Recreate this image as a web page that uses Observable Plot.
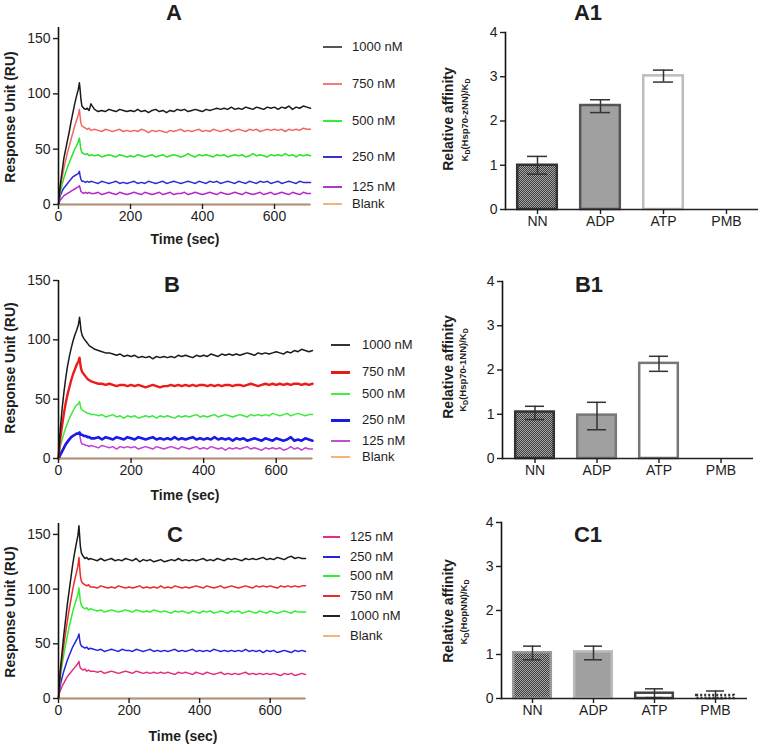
<!DOCTYPE html>
<html><head><meta charset="utf-8">
<script src="https://cdn.jsdelivr.net/npm/d3@7"></script>
<script src="https://cdn.jsdelivr.net/npm/@observablehq/plot@0.6"></script>
<style>
body{margin:0;background:#fff;}
#root{position:relative;width:761px;height:746px;background:#fff;font-family:"Liberation Sans",Arial,sans-serif;color:#1e1e1e;overflow:hidden}
.t{position:absolute;white-space:nowrap;transform:translate(-50%,-50%);line-height:1.15;}
.title{font-weight:bold;font-size:22px;}
.ax{font-weight:bold;font-size:14px;}
.sub{font-weight:bold;font-size:9.5px;}
.sub sub{font-size:7px;vertical-align:-2px;}
.leg{position:absolute;font-size:13px;white-space:nowrap;transform:translateY(-50%);line-height:1.15;}
.legline{position:absolute;height:0;}
svg.p{position:absolute;}
</style></head><body><div id="root"></div>
<script>
// ---------------- DATA ----------------
const timeSec = [0,2,5,10,15,20,25,30,35,40,45,50,55,58,60,62,65,70,75,80,85,90,
100,110,120,130,140,150,160,170,180,190,
200,210,220,230,240,250,260,270,280,290,
300,310,320,330,340,350,360,370,380,390,
400,410,420,430,440,450,460,470,480,490,
500,510,520,530,540,550,560,570,580,590,
600,610,620,630,640,650,660,670,680,690,
700];
const blankTime = [0, 700];
const blankRU = [0, 0];

const A_1000 = [0,8,18,30,42,50,58,66,75,83,91,98,104,110,104,96,89,87,86,87,85,91,
86,84,85,84,86,85,84,86,85,84,
85,84,86,84,85,83,85,86,84,85,
83,85,84,86,85,86,84,85,86,85,
84,86,85,86,87,86,87,86,88,86,
87,86,88,87,86,88,87,86,88,87,
88,86,88,87,89,86,88,87,89,88,
87];
const A_750 = [0,7,15,24,33,40,47,53,59,65,71,76,81,86,80,74,71,70,69,68,69,67,
68,67,66,68,67,66,67,68,66,67,
66,67,66,68,67,65,67,66,67,66,
65,67,66,67,68,66,67,66,67,68,
66,67,66,68,67,66,67,68,66,67,
68,67,66,68,67,68,66,67,68,67,
68,67,68,66,68,67,68,67,69,68,
68];
const A_500 = [0,6,11,18,24,29,34,38,42,46,50,53,57,60,55,50,47,46,45,46,44,45,
44,45,43,44,45,44,43,45,44,43,
44,43,45,44,43,44,45,43,44,45,
43,44,45,44,43,44,46,44,43,45,
44,45,44,43,45,44,45,43,44,45,
44,45,43,44,46,44,45,44,43,45,
44,45,44,46,44,45,43,45,44,45,
44];
const A_250 = [0,4,8,12,15,17,19,21,23,25,26,27,28,30,26,23,21,21,20,21,20,21,
20,19,21,20,19,20,21,19,20,19,
20,21,19,20,19,21,20,19,20,21,
19,20,21,20,19,20,21,20,19,21,
20,19,21,20,21,19,20,21,20,19,
21,20,19,21,20,19,21,20,21,19,
20,21,19,20,21,20,19,21,20,20,
20];
const A_125 = [0,2,4,6,8,9,10,11,12,13,14,15,16,17,15,12,11,10,11,10,11,10,
10,11,9,10,11,10,9,11,10,9,
10,11,10,9,11,10,9,10,11,9,
10,11,9,10,10,11,9,10,11,10,
9,10,11,10,9,11,10,9,10,11,
10,9,11,10,9,10,11,9,10,11,
9,10,11,10,9,11,10,9,11,10,
10];

const B_1000 = [0,12,25,42,56,68,78,86,93,99,104,108,113,119,114,108,104,101,99,97,95,94,
92,91,90,89,89,88,87,88,86,87,
86,87,85,86,85,86,84,86,85,86,
85,86,85,87,86,87,86,85,87,86,
87,86,88,87,86,88,87,88,87,88,
87,88,89,88,87,89,88,89,88,89,
90,89,88,90,89,91,90,92,91,90,
91];
const B_750 = [0,8,17,28,38,47,54,60,66,71,75,79,82,85,80,76,73,71,69,67,66,65,
64,63,63,62,63,62,61,62,62,61,
62,61,62,61,60,61,62,61,60,61,
61,62,61,62,61,62,61,62,61,62,
62,61,62,61,62,61,62,62,61,62,
62,61,62,63,62,61,62,63,62,63,
62,63,62,63,62,63,63,62,63,62,
63];
const B_500 = [0,5,10,16,21,26,30,34,37,40,43,45,46,48,45,42,41,40,39,38,38,37,
37,36,37,35,36,37,35,36,34,36,
35,36,34,35,36,35,36,34,36,35,
36,35,34,36,35,36,35,36,37,35,
36,35,36,37,35,36,37,36,35,36,
37,36,35,37,36,37,36,37,36,38,
37,36,37,38,36,37,38,37,36,37,
37];
const B_250 = [0,1,3,6,9,12,14,16,18,19,20,21,21,22,21,20,20,19,19,18,18,17,
17,18,16,18,17,16,18,17,16,18,
17,16,18,17,16,17,18,16,17,16,
17,16,18,16,17,16,17,18,16,17,
16,17,16,18,16,17,16,17,15,17,
16,17,15,16,17,16,15,17,16,15,
17,16,15,16,18,15,16,15,17,16,
15];
const B_125 = [0,2,4,7,10,13,15,17,18,19,20,21,21,20,17,14,12,12,11,11,10,11,
10,9,11,10,9,10,8,10,9,10,
9,10,8,9,10,9,8,10,9,8,
9,10,9,8,10,9,8,9,10,8,
9,8,10,9,8,9,7,9,8,9,
8,9,10,8,9,8,7,9,8,9,
8,9,7,8,10,8,9,7,9,8,
8];

const C_1000 = [0,12,26,42,58,72,86,98,110,122,132,141,149,158,148,139,133,130,128,129,127,128,
127,126,128,126,127,128,126,127,126,128,
127,126,128,125,127,126,127,125,126,127,
125,126,127,126,128,126,127,126,127,126,
127,128,126,127,126,128,127,126,128,127,
128,127,126,128,127,128,127,128,129,127,
128,127,129,128,127,129,130,128,129,128,
128];
const C_750 = [0,10,22,36,49,60,71,81,90,99,107,114,121,129,120,112,107,105,104,103,104,102,
102,101,103,102,101,102,101,103,102,101,
102,101,102,103,101,102,101,102,101,103,
101,102,101,103,102,101,102,101,102,103,
102,101,103,102,101,102,103,101,102,103,
102,101,102,103,102,101,103,102,103,102,
103,102,101,103,102,103,102,103,102,103,
103];
const C_500 = [0,9,19,30,40,49,57,65,72,79,85,90,95,101,95,89,85,83,82,83,81,82,
81,80,81,79,80,81,80,79,80,81,
80,79,81,80,79,80,79,81,80,79,
80,79,78,80,79,80,79,78,80,79,
78,80,79,80,78,79,80,79,78,80,
79,80,78,79,80,79,78,80,79,78,
80,79,78,79,80,79,78,80,79,79,
79];
const C_250 = [0,6,12,19,25,30,35,39,43,47,50,53,56,59,54,50,48,47,46,47,45,46,
45,44,45,43,44,45,44,43,45,44,
44,43,45,44,43,44,45,43,44,43,
44,43,44,45,43,44,43,44,45,43,
44,43,44,43,45,44,43,44,43,44,
43,44,43,45,43,44,43,44,42,44,
43,44,42,43,44,43,42,44,43,44,
43];
const C_125 = [0,4,7,11,14,17,20,22,24,26,28,30,32,34,30,28,27,26,27,25,26,25,
25,24,25,23,24,25,24,23,24,25,
24,23,25,24,23,24,23,24,23,24,
23,24,23,22,24,23,24,23,22,24,
23,22,24,23,22,23,24,22,23,22,
23,22,23,24,22,23,22,23,22,23,
22,23,22,21,23,22,23,21,22,23,
22];

const timeTicks = [0, 200, 400, 600];
const ruTicks = [0, 50, 100, 150];
const legendAB = ["1000 nM", "750 nM", "500 nM", "250 nM", "125 nM", "Blank"];
const legendC = ["125 nM", "250 nM", "500 nM", "750 nM", "1000 nM", "Blank"];

const categories = ["NN", "ADP", "ATP", "PMB"];
const affinityTicks = [0, 1, 2, 3, 4];
const A1_mean = [1.00, 2.35, 3.02, 0];
const A1_low  = [0.80, 2.19, 2.88, 0];
const A1_high = [1.20, 2.48, 3.15, 0];
const B1_mean = [1.05, 0.98, 2.15, 0];
const B1_low  = [0.88, 0.65, 1.97, 0];
const B1_high = [1.18, 1.27, 2.31, 0];
const C1_mean = [1.04, 1.06, 0.12, 0.07];
const C1_low  = [0.88, 0.88, 0.02, 0.00];
const C1_high = [1.19, 1.19, 0.22, 0.17];

// ---------------- RENDER ----------------
const root = document.getElementById("root");
const FONT = '"Liberation Sans", Arial, sans-serif';
const intFmt = d => String(d);

root.insertAdjacentHTML("beforeend", `<svg width="0" height="0" style="position:absolute"><defs>
<pattern id="chk" width="2" height="2" patternUnits="userSpaceOnUse">
<rect width="2" height="2" fill="#3c3c3c"/><rect width="1" height="1" fill="#a8a8a8"/><rect x="1" y="1" width="1" height="1" fill="#a8a8a8"/>
</pattern></defs></svg>`);

function addText(html, x, y, cls, rot) {
  const d = document.createElement("div");
  d.className = "t " + cls;
  d.innerHTML = html;
  d.style.left = x + "px";
  d.style.top = y + "px";
  if (rot) d.style.transform = "translate(-50%,-50%) rotate(-90deg)";
  root.appendChild(d);
}

function addLegend(labels, colors, widths, x1, x2, tx, ys) {
  labels.forEach((lab, i) => {
    const l = document.createElement("div");
    l.className = "legline";
    l.style.left = x1 + "px";
    l.style.width = (x2 - x1) + "px";
    l.style.top = (ys[i] - widths[i] / 2) + "px";
    l.style.borderTop = `${widths[i]}px solid ${colors[i]}`;
    root.appendChild(l);
    const t = document.createElement("div");
    t.className = "leg";
    t.style.left = tx + "px";
    t.style.top = ys[i] + "px";
    t.textContent = lab;
    root.appendChild(t);
  });
}

function sensorgram(cfg) {
  const marks = [];
  cfg.series.forEach(s => {
    marks.push(Plot.line(timeSec.map((t, i) => ({t, v: s.values[i]})),
      {x: "t", y: "v", stroke: s.color, strokeWidth: s.width, curve: "linear"}));
  });
  marks.push(Plot.ruleY([0], {stroke: "#111", strokeWidth: 1.6}));
  marks.push(Plot.ruleX([0], {stroke: "#111", strokeWidth: 1.6}));
  marks.push(Plot.line(blankTime.map((t, i) => ({t, v: blankRU[i]})),
    {x: "t", y: "v", stroke: "#c98a5a", strokeWidth: 1}));
  marks.push(Plot.axisY({ticks: cfg.yTicks, tickFormat: intFmt, tickSize: 5, tickPadding: 3, label: null, strokeWidth: 1.4}));
  marks.push(Plot.axisX({ticks: timeTicks, tickFormat: intFmt, tickSize: 5, tickPadding: 2, label: null, strokeWidth: 1.4}));
  const svg = Plot.plot({
    width: 380, height: cfg.height,
    marginLeft: cfg.m[0], marginRight: cfg.m[1], marginTop: cfg.m[2], marginBottom: cfg.m[3],
    x: {domain: [0, 700]},
    y: {domain: [0, cfg.yMax]},
    style: {fontFamily: FONT, fontSize: "14px", color: "#1e1e1e", background: "transparent", overflow: "visible"},
    marks
  });
  svg.classList.add("p");
  svg.style.left = "0px";
  svg.style.top = cfg.top + "px";
  root.appendChild(svg);
}

function barChart(cfg) {
  const rows = categories.map((c, i) => ({c, m: cfg.mean[i], lo: cfg.low[i], hi: cfg.high[i]}));
  const marks = [];
  rows.forEach((r, i) => {
    const st = cfg.styles[i];
    if (r.m > 0) {
      marks.push(Plot.barY([r], {x: "c", y: "m", fill: st.fill, stroke: st.stroke,
        strokeWidth: 2.5, strokeDasharray: st.dash || null, insetLeft: 1.2, insetRight: 1.2}));
    }
  });
  const err = rows.filter(r => r.hi > r.lo);
  marks.push(Plot.ruleX(err, {x: "c", y1: "lo", y2: "hi", stroke: "#333", strokeWidth: 1.5}));
  marks.push(Plot.tickY(err, {x: "c", y: "lo", stroke: "#333", strokeWidth: 1.5, insetLeft: 11, insetRight: 11}));
  marks.push(Plot.tickY(err, {x: "c", y: "hi", stroke: "#333", strokeWidth: 1.5, insetLeft: 11, insetRight: 11}));
  marks.push(Plot.frame({anchor: "left", stroke: "#111", strokeWidth: 1.6}));
  marks.push(Plot.ruleY([0], {stroke: "#222", strokeWidth: 1.6}));
  marks.push(Plot.axisY({ticks: affinityTicks, tickFormat: intFmt, tickSize: 5, tickPadding: 3, label: null, strokeWidth: 1.4}));
  marks.push(Plot.axisX({tickSize: 5, tickPadding: 2, label: null, strokeWidth: 1.4}));
  const svg = Plot.plot({
    width: 381, height: cfg.height,
    marginLeft: cfg.m[0], marginRight: cfg.m[1], marginTop: cfg.m[2], marginBottom: cfg.m[3],
    x: {domain: categories, paddingInner: 0.34, paddingOuter: 0.17},
    y: {domain: [0, 4]},
    style: {fontFamily: FONT, fontSize: "14px", color: "#1e1e1e", background: "transparent", overflow: "visible"},
    marks
  });
  svg.classList.add("p");
  svg.style.left = "380px";
  svg.style.top = cfg.top + "px";
  root.appendChild(svg);
}

// ----- Row A -----
sensorgram({top: 0, height: 250, m: [58, 70, 27, 46], yMax: 160, yTicks: ruTicks, series: [
  {values: A_125, color: "#b22ac8", width: 1.5},
  {values: A_250, color: "#2b2bd6", width: 1.5},
  {values: A_500, color: "#28e428", width: 1.5},
  {values: A_750, color: "#f26565", width: 1.5},
  {values: A_1000, color: "#1a1a1a", width: 1.5}
]});
addLegend(legendAB, ["#555", "#f47a7a", "#33ee33", "#3434c8", "#a83cc8", "#f4b27c"], [2,2,2,2,2,2],
  323, 342, 352, [47, 83.5, 120.5, 157, 187, 203.5]);
addText("A", 174, 13, "title");
addText("Response Unit (RU)", 10, 117, "ax", true);
addText("Time (sec)", 185, 239, "ax");

barChart({top: 0, height: 250, m: [125, 3, 32, 41], mean: A1_mean, low: A1_low, high: A1_high, styles: [
  {fill: "url(#chk)", stroke: "#333"},
  {fill: "#a0a0a0", stroke: "#555"},
  {fill: "#fff", stroke: "#bdbdbd"},
  {fill: "#fff", stroke: "#444"}
]});
addText("A1", 588, 13, "title");
addText("Relative affinity", 448, 119, "ax", true);
addText("K<sub>D</sub>(Hsp70-zNN)/K<sub>D</sub>", 466, 120, "sub", true);

// ----- Row B -----
sensorgram({top: 250, height: 250, m: [58, 68, 30, 42], yMax: 150, yTicks: ruTicks, series: [
  {values: B_125, color: "#c23fd4", width: 1.5},
  {values: B_250, color: "#1a1ae8", width: 2.6},
  {values: B_500, color: "#3ce83c", width: 1.5},
  {values: B_750, color: "#ec1c1c", width: 2.4},
  {values: B_1000, color: "#1a1a1a", width: 1.5}
]});
addLegend(legendAB, ["#333", "#e81a1a", "#44ee44", "#1a1ae0", "#c050d0", "#f4b27c"], [2,3,2,3,2,2],
  331, 350, 362, [345, 372, 394, 420, 441, 457]);
addText("B", 172, 285, "title");
addText("Response Unit (RU)", 10, 368, "ax", true);
addText("Time (sec)", 185, 495, "ax");

barChart({top: 250, height: 250, m: [122, 8, 31, 42], mean: B1_mean, low: B1_low, high: B1_high, styles: [
  {fill: "url(#chk)", stroke: "#333"},
  {fill: "#a0a0a0", stroke: "#777"},
  {fill: "#fff", stroke: "#777"},
  {fill: "#fff", stroke: "#444"}
]});
addText("B1", 589, 285, "title");
addText("Relative affinity", 448, 367, "ax", true);
addText("K<sub>D</sub>(Hsp70-1NN)/K<sub>D</sub>", 464, 370, "sub", true);

// ----- Row C -----
sensorgram({top: 490, height: 256, m: [58, 75, 33, 48], yMax: 160, yTicks: ruTicks, series: [
  {values: C_125, color: "#e2307e", width: 1.5},
  {values: C_250, color: "#2424dc", width: 1.5},
  {values: C_500, color: "#2ef02e", width: 1.5},
  {values: C_750, color: "#f02a2a", width: 1.5},
  {values: C_1000, color: "#1a1a1a", width: 1.5}
]});
addLegend(legendC, ["#e2307e", "#2424dc", "#2ef02e", "#f02a2a", "#222", "#f4b27c"], [2,2,2,2,2,2],
  323, 340, 350, [537, 557, 576, 596, 616, 636]);
addText("C", 175, 535, "title");
addText("Response Unit (RU)", 10, 612, "ax", true);
addText("Time (sec)", 183, 736, "ax");

barChart({top: 490, height: 256, m: [121, 14, 32, 48], mean: C1_mean, low: C1_low, high: C1_high, styles: [
  {fill: "url(#chk)", stroke: "#9a9a9a"},
  {fill: "#a0a0a0", stroke: "#bbbbbb"},
  {fill: "#fff", stroke: "#444"},
  {fill: "#fff", stroke: "#333", dash: "2,2"}
]});
addText("C1", 588, 535, "title");
addText("Relative affinity", 448, 611, "ax", true);
addText("K<sub>D</sub>(HopNN)/K<sub>D</sub>", 465, 612, "sub", true);
</script></body></html>
